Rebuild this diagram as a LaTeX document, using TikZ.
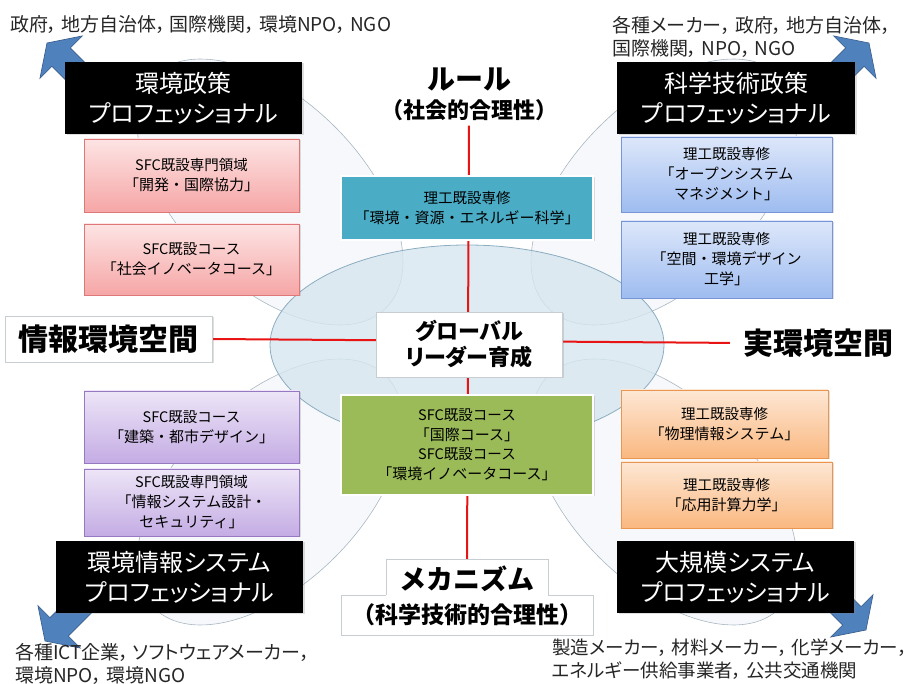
\documentclass[tikz,border=0pt]{standalone}
\usepackage{fontspec}
\setmainfont{Noto Sans CJK JP}
\newfontfamily\pfont{Noto Sans CJK JP}[RawFeature=+palt]
\usepackage{tikz}
\usetikzlibrary{positioning, shadows, backgrounds}

\definecolor{pinktop}{RGB}{253,228,228}
\definecolor{pinkbot}{RGB}{246,166,166}
\definecolor{pinkline}{RGB}{222,120,120}
\definecolor{bluetop}{RGB}{221,231,250}
\definecolor{bluebot}{RGB}{158,188,240}
\definecolor{blueline}{RGB}{120,150,215}
\definecolor{purptop}{RGB}{237,229,247}
\definecolor{purpbot}{RGB}{196,172,228}
\definecolor{purpline}{RGB}{150,120,195}
\definecolor{orgtop}{RGB}{253,231,212}
\definecolor{orgbot}{RGB}{250,184,128}
\definecolor{orgline}{RGB}{235,150,80}
\definecolor{tealbox}{RGB}{75,172,198}
\definecolor{greenbox}{RGB}{155,187,89}
\definecolor{arrowblue}{RGB}{79,129,189}
\definecolor{arrowline}{RGB}{56,93,138}
\definecolor{axisred}{RGB}{232,20,20}
\definecolor{petalfill}{RGB}{240,244,248}
\definecolor{petalline}{RGB}{170,182,192}
\definecolor{hubfill}{RGB}{214,230,239}
\definecolor{hubline}{RGB}{140,172,192}
\definecolor{frameline}{RGB}{200,205,210}

\newcommand{\crshd}[1]{{\fontsize{14.5}{15}\selectfont #1}}
\newcommand{\csep}{，\hspace{0.2em}}

\tikzset{
    softshadow/.style={drop shadow={opacity=0.25, shadow xshift=1.5pt, shadow yshift=-1.5pt}},
    pro/.style={rectangle, fill=black, text=white, minimum height=72pt, align=center, inner sep=2pt,
        font=\pfont\fontsize{24}{30}\selectfont, softshadow},
    course/.style={rectangle, line width=0.8pt, align=center, inner sep=2pt,
        font=\fontsize{15}{20}\selectfont, softshadow},
    pinkbox/.style={course, draw=pinkline, top color=pinktop, bottom color=pinkbot},
    bluebox/.style={course, draw=blueline, top color=bluetop, bottom color=bluebot},
    purplebox/.style={course, draw=purpline, top color=purptop, bottom color=purpbot},
    orangebox/.style={course, draw=orgline, top color=orgtop, bottom color=orgbot},
    solidbox/.style={course, draw=white, line width=1.5pt},
    labelframe/.style={rectangle, draw=frameline, fill=white, inner sep=2pt},
    target/.style={anchor=west, align=left, inner sep=0pt, text=black!85,
        font=\pfont\fontsize{19}{23}\selectfont},
    petal/.style={draw=petalline, line width=0.6pt, fill=petalfill, fill opacity=0.6},
    hub/.style={draw=hubline, line width=0.8pt, fill=hubfill, fill opacity=0.8},
    flowarrow/.style={fill=arrowblue, draw=arrowline, line width=0.6pt},
    axisline/.style={draw=axisred, line width=2pt}
}

\begin{document}
\begin{tikzpicture}[x=1pt, y=-1pt]
    \useasboundingbox (0,0) rectangle (914,684);

    % where the graduates go
    \node[target] (tltext) at (10,25) {政府\csep 地方自治体\csep 国際機関\csep 環境NPO\csep NGO};
    \node[target] (trtext) at (612,36.5) {各種メーカー\csep 政府\csep 地方自治体，\\国際機関\csep NPO\csep NGO};
    \node[target] (bltext) at (15,664) {各種ICT企業\csep ソフトウェアメーカー，\\環境NPO\csep 環境NGO};
    \node[target, font=\pfont\fontsize{18.5}{23}\selectfont] (brtext) at (552,659)
        {製造メーカー\csep 材料メーカー\csep 化学メーカー，\\エネルギー供給事業者\csep 公共交通機関};

    % professionals
    \node[pro, minimum width=237pt] (envpol) at (183.5,98) {環境政策\\プロフェッショナル};
    \node[pro, minimum width=238pt] (scipol) at (736,98) {科学技術政策\\プロフェッショナル};
    \node[pro, minimum width=247pt] (envinfo) at (179.5,577) {環境情報システム\\プロフェッショナル};
    \node[pro, minimum width=237pt] (largesys) at (735.5,577) {大規模システム\\プロフェッショナル};

    % courses
    \node[pinkbox, minimum width=215pt, minimum height=73pt] (devcoop) at (191.5,175.5)
        {\crshd{SFC既設専門領域}\\「開発・国際協力」};
    \node[pinkbox, minimum width=215pt, minimum height=71pt] (socinno) at (191.5,259.5)
        {\crshd{SFC既設コース}\\「社会イノベータコース」};
    \node[bluebox, minimum width=211pt, minimum height=75pt] (opensys) at (726.5,174.5)
        {\crshd{理工既設専修}\\「オープンシステム\\マネジメント」};
    \node[bluebox, minimum width=211pt, minimum height=77pt] (spacedes) at (726.5,259.5)
        {\crshd{理工既設専修}\\「空間・環境デザイン\\工学」};
    \node[solidbox, fill=tealbox, minimum width=252pt, minimum height=64pt] (energy) at (467,208)
        {\crshd{理工既設専修}\\「環境・資源・エネルギー科学」};
    \node[solidbox, fill=greenbox, minimum width=252pt, minimum height=100pt, font=\fontsize{15}{19.5}\selectfont] (intl) at (467,445)
        {\crshd{SFC既設コース}\\「国際コース」\\\crshd{SFC既設コース}\\「環境イノベータコース」};
    \node[purplebox, minimum width=215pt, minimum height=72pt] (archi) at (191.5,427)
        {\crshd{SFC既設コース}\\「建築・都市デザイン」};
    \node[purplebox, minimum width=215pt, minimum height=67pt] (infosec) at (191.5,502.5)
        {\crshd{SFC既設専門領域}\\「情報システム設計・\\セキュリティ」};
    \node[orangebox, minimum width=207pt, minimum height=68pt] (physinfo) at (724.5,424)
        {\crshd{理工既設専修}\\「物理情報システム」};
    \node[orangebox, minimum width=211pt, minimum height=66pt] (compmech) at (726.5,495)
        {\crshd{理工既設専修}\\「応用計算力学」};

    % centre and axes
    \node[labelframe, softshadow, minimum width=186pt, minimum height=65pt, align=center,
        font=\pfont\bfseries\fontsize{22}{26}\selectfont] (global) at (469,344.5) {グローバル\\リーダー育成};
    \node[align=center, inner sep=1pt, font=\bfseries\fontsize{22}{29}\selectfont] (rule) at (469,94)
        {{\fontsize{28}{29}\selectfont ルール}\\（社会的合理性）};
    \node[labelframe, minimum width=252pt, minimum height=40pt, font=\bfseries\fontsize{23}{28}\selectfont] (mechsub) at (467,615)
        {（科学技術的合理性）};
    \node[labelframe, draw=none, minimum width=162pt, minimum height=38pt, font=\bfseries\fontsize{27}{30}\selectfont] (mechtop) at (467,578.5)
        {メカニズム};
    \draw[frameline] (mechtop.west |- mechsub.north) |- (mechtop.north east) -- (mechtop.east |- mechsub.north);
    \node[labelframe, softshadow, minimum width=207pt, minimum height=46pt, font=\bfseries\fontsize{30}{32}\selectfont] (info) at (108.5,339)
        {情報環境空間};
    \node[inner sep=1pt, font=\bfseries\fontsize{30}{32}\selectfont] (real) at (818,343) {実環境空間};

    \begin{scope}[on background layer]
        \foreach \cx/\cy/\ang in {270/192/-45, 664/192/45, 270/492/45, 664/492/-45}
            \draw[petal, rotate around={\ang:(\cx,\cy)}] (\cx,\cy) ellipse [x radius=164pt, y radius=92pt];
        \draw[hub] (467,345) ellipse [x radius=197pt, y radius=100pt];
        \foreach \tx/\ty/\ang in {47/43/135, 869/43/45, 45/641/225, 866/630/-45}
            \filldraw[flowarrow, shift={(\tx,\ty)}, rotate=\ang]
                (0,0) -- (-20,30) -- (-20,13) -- (-62,13) -- (-62,-13) -- (-20,-13) -- (-20,-30) -- cycle;
        \draw[axisline, shorten <=4pt] (rule.south) -- (mechtop.north);
        \draw[axisline, shorten >=12pt] (info.east) -- (real.west);
    \end{scope}
\end{tikzpicture}
\end{document}
